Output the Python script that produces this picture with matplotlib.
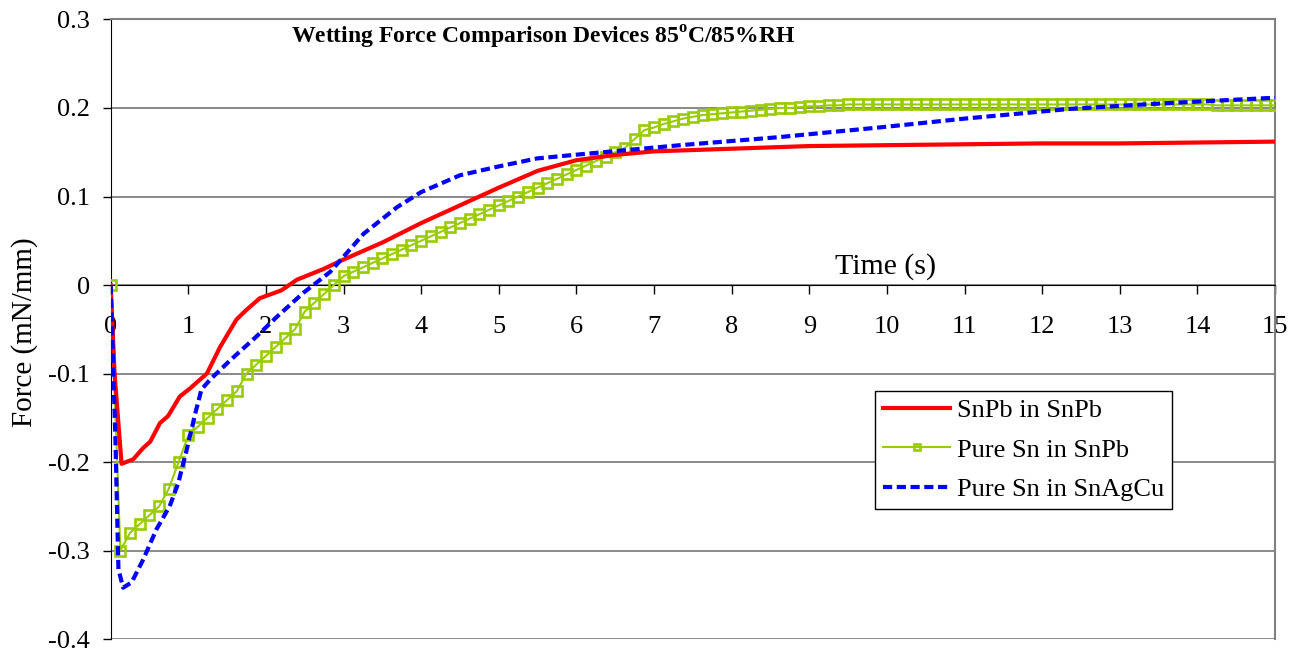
import matplotlib
matplotlib.use("Agg")
import matplotlib.pyplot as plt
import numpy as np

plt.rcParams["font.family"] = ["Liberation Serif", "DejaVu Serif"]
plt.rcParams["mathtext.fontset"] = "custom"
plt.rcParams["mathtext.rm"] = "Liberation Serif"
plt.rcParams["mathtext.bf"] = "Liberation Serif:bold"
plt.rcParams["axes.unicode_minus"] = False

# SnPb in SnPb
snpb_t = [0, 0.05, 0.14, 0.29, 0.42, 0.51, 0.635, 0.74, 0.89, 1.02, 1.24, 1.41, 1.62,
          1.75, 1.92, 2.2, 2.4, 2.74, 2.98, 3.5, 4.0, 4.5, 5.0, 5.5, 6.0, 6.5, 7.0,
          8.0, 9.0, 10.0, 11.0, 12.0, 13.0, 14.0, 15.0]
snpb_f = [0, -0.10, -0.202, -0.197, -0.184, -0.177, -0.156, -0.148, -0.126, -0.117,
          -0.100, -0.070, -0.039, -0.028, -0.015, -0.006, 0.006, 0.018, 0.028, 0.048,
          0.070, 0.090, 0.110, 0.129, 0.141, 0.147, 0.151, 0.154, 0.157, 0.158, 0.159,
          0.160, 0.160, 0.161, 0.162]

# Pure Sn in SnPb, one sample every 0.125 s
pure_sn_snpb_f = [
    0.000, -0.300, -0.280, -0.270, -0.260, -0.250, -0.230, -0.200,
    -0.170, -0.160, -0.150, -0.140, -0.130, -0.120, -0.100, -0.090,
    -0.080, -0.070, -0.060, -0.050, -0.030, -0.020, -0.010, 0.000,
    0.010, 0.015, 0.020, 0.025, 0.030, 0.035, 0.040, 0.045,
    0.050, 0.055, 0.060, 0.065, 0.070, 0.075, 0.080, 0.085,
    0.090, 0.095, 0.100, 0.105, 0.110, 0.115, 0.120, 0.125,
    0.130, 0.135, 0.140, 0.145, 0.150, 0.155, 0.165, 0.175,
    0.178, 0.182, 0.185, 0.188, 0.190, 0.192, 0.193, 0.194,
    0.195, 0.196, 0.197, 0.198, 0.199, 0.200, 0.200, 0.201,
    0.202, 0.202, 0.203, 0.203, 0.204, 0.204, 0.204, 0.204,
    0.204, 0.204, 0.204, 0.204, 0.204, 0.204, 0.204, 0.204,
    0.204, 0.204, 0.204, 0.204, 0.204, 0.204, 0.204, 0.204,
    0.204, 0.204, 0.204, 0.204, 0.204, 0.204, 0.204, 0.204,
    0.204, 0.204, 0.204, 0.204, 0.204, 0.204, 0.204, 0.204,
    0.204, 0.204, 0.203, 0.203, 0.203, 0.203, 0.203, 0.203,
    0.203,
]
pure_sn_snpb_t = np.linspace(0, 15, len(pure_sn_snpb_f))

# Pure Sn in SnAgCu
snagcu_t = [0, 0.03, 0.06, 0.1, 0.16, 0.27, 0.42, 0.59, 0.76, 0.87, 0.98, 1.09, 1.17,
            1.28, 1.54, 1.88, 2.14, 2.48, 2.83, 3.26, 3.69, 4.0, 4.5, 5.0, 5.49, 6.09,
            7.34, 8.6, 9.9, 11.0, 12.36, 13.5, 15.0]
snagcu_f = [0, -0.085, -0.17, -0.321, -0.342, -0.336, -0.310, -0.276, -0.250, -0.224,
            -0.186, -0.145, -0.118, -0.107, -0.085, -0.058, -0.036, -0.009, 0.015,
            0.058, 0.088, 0.105, 0.124, 0.134, 0.143, 0.148, 0.158, 0.167, 0.178,
            0.188, 0.199, 0.205, 0.2116]

y_ticks = [-0.4, -0.3, -0.2, -0.1, 0, 0.1, 0.2, 0.3]
y_tick_labels = ["-0.4", "-0.3", "-0.2", "-0.1", "0", "0.1", "0.2", "0.3"]
x_ticks = list(range(0, 16))

fig = plt.figure(figsize=(13.02, 6.52), dpi=100)
ax = fig.add_axes([0.085, 0.0199, 0.8943, 0.9502])
ax.set_xlim(0, 15)
ax.set_ylim(-0.4, 0.3)

ax.plot(snpb_t, snpb_f, color="#FF0000", lw=3, label="SnPb in SnPb", zorder=4)
ax.plot(pure_sn_snpb_t, pure_sn_snpb_f, color="#99CC00", lw=1.5, marker="s",
        markersize=7, markerfacecolor="none", markeredgewidth=1.9,
        label="Pure Sn in SnPb", zorder=3)
ax.plot(snagcu_t, snagcu_f, color="#0000FF", lw=3, dashes=(2.2, 1.1),
        label="Pure Sn in SnAgCu", zorder=5)

# axes: x-axis crosses at zero, grey plot-area border
ax.spines["bottom"].set_position(("data", 0))
ax.spines["bottom"].set_color("black")
ax.spines["left"].set_color("black")
for side in ("top", "right"):
    ax.spines[side].set_color("#808080")
    ax.spines[side].set_linewidth(1.5)
ax.set_yticks(y_ticks)
ax.set_yticklabels(y_tick_labels)
ax.set_xticks(x_ticks)
ax.grid(axis="y", color="#808080", lw=1.3)
ax.set_axisbelow(True)
ax.tick_params(axis="y", direction="out", length=6, width=1, labelsize=19, pad=9)
ax.tick_params(axis="x", direction="out", length=6.5, width=1, labelsize=19, pad=16)

ax.text(0.371, 0.9616, r"Wetting Force Comparison Devices 85$^{\mathbf{o}}$C/85%RH",
        transform=ax.transAxes, ha="center", va="baseline", fontsize=17,
        fontweight="bold")
ax.text(9.33, 0.0132, "Time (s)", ha="left", va="baseline", fontsize=21.5)
fig.text(0.019, 0.49, "Force (mN/mm)", rotation=90, ha="center", va="center",
         fontsize=21)

leg = ax.legend(loc="upper left", bbox_to_anchor=(0.6565, 0.4003), fontsize=19,
                frameon=True, fancybox=False, edgecolor="black", framealpha=1,
                handlelength=2.55, handletextpad=0.25, labelspacing=0.6,
                borderpad=0.3, borderaxespad=0)
leg.get_frame().set_linewidth(1)
leg.legend_handles[1].set_markersize(5)

fig.savefig("out.png", dpi=100)
plt.close()
